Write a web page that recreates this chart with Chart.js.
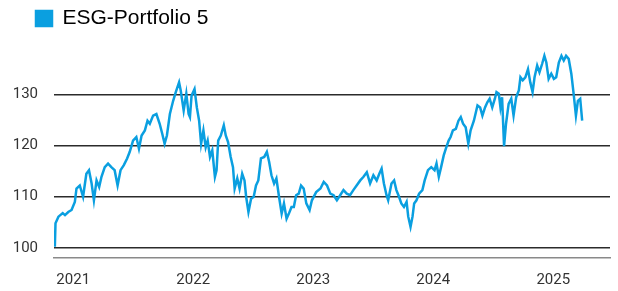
<!DOCTYPE html>
<html>
<head>
<meta charset="utf-8">
<script src="https://cdn.jsdelivr.net/npm/chart.js@4/dist/chart.umd.min.js"></script>
<style>
  body { margin: 0; background: #fff; }
  #wrap { width: 618px; height: 291px; }
</style>
</head>
<body>
<div id="wrap"><canvas id="chart"></canvas></div>
<script>
// ESG-Portfolio 5 - value history (indexed to 100)

const seriesLabel = 'ESG-Portfolio 5';

const dates = [
    '2020-11-06', '2020-11-08', '2020-11-17', '2020-11-30', '2020-12-07', '2020-12-17', '2020-12-27',
    '2021-01-06', '2021-01-11', '2021-01-21', '2021-01-31', '2021-02-10', '2021-02-18', '2021-02-26', '2021-03-05',
    '2021-03-13', '2021-03-21', '2021-03-28', '2021-04-07', '2021-04-17', '2021-04-27', '2021-05-07', '2021-05-16',
    '2021-05-25', '2021-06-04', '2021-06-14', '2021-06-22', '2021-07-02', '2021-07-12', '2021-07-20', '2021-07-28',
    '2021-08-07', '2021-08-15', '2021-08-22', '2021-09-01', '2021-09-11', '2021-09-21', '2021-09-29', '2021-10-06',
    '2021-10-13', '2021-10-22', '2021-11-01', '2021-11-09', '2021-11-19', '2021-11-24', '2021-12-03', '2021-12-11',
    '2021-12-18', '2021-12-22', '2021-12-27',
    '2022-01-05', '2022-01-12', '2022-01-19', '2022-01-25', '2022-02-01', '2022-02-08', '2022-02-14', '2022-02-21',
    '2022-02-28', '2022-03-08', '2022-03-13', '2022-03-18', '2022-03-26', '2022-04-04', '2022-04-10', '2022-04-17',
    '2022-04-25', '2022-05-02', '2022-05-07', '2022-05-15', '2022-05-22', '2022-05-30', '2022-06-06', '2022-06-11',
    '2022-06-18', '2022-06-26', '2022-07-04', '2022-07-11', '2022-07-18', '2022-07-26', '2022-08-05', '2022-08-13',
    '2022-08-20', '2022-08-27', '2022-09-04', '2022-09-11', '2022-09-19', '2022-09-27', '2022-10-04', '2022-10-12',
    '2022-10-19', '2022-10-27', '2022-11-03', '2022-11-10', '2022-11-18', '2022-11-25', '2022-12-03', '2022-12-11',
    '2022-12-21', '2022-12-28',
    '2023-01-10', '2023-01-23', '2023-02-02', '2023-02-12', '2023-02-22', '2023-03-04', '2023-03-14', '2023-03-24',
    '2023-04-03', '2023-04-13', '2023-04-23', '2023-05-03', '2023-05-13', '2023-05-24', '2023-06-03', '2023-06-13',
    '2023-06-23', '2023-07-03', '2023-07-13', '2023-07-21', '2023-07-28', '2023-08-04', '2023-08-12', '2023-08-17',
    '2023-08-27', '2023-09-04', '2023-09-11', '2023-09-19', '2023-09-26', '2023-10-04', '2023-10-12', '2023-10-17',
    '2023-10-24', '2023-10-30', '2023-11-04', '2023-11-11', '2023-11-19', '2023-11-29', '2023-12-06', '2023-12-16',
    '2023-12-26',
    '2024-01-05', '2024-01-11', '2024-01-18', '2024-01-25', '2024-02-02', '2024-02-10', '2024-02-17', '2024-02-23',
    '2024-03-01', '2024-03-10', '2024-03-18', '2024-03-25', '2024-04-01', '2024-04-09', '2024-04-17', '2024-04-24',
    '2024-05-04', '2024-05-15', '2024-05-23', '2024-05-30', '2024-06-07', '2024-06-14', '2024-06-21', '2024-06-29',
    '2024-07-07', '2024-07-12', '2024-07-19', '2024-07-24', '2024-07-29', '2024-08-04', '2024-08-10', '2024-08-18',
    '2024-08-26', '2024-09-02', '2024-09-10', '2024-09-18', '2024-09-23', '2024-09-30', '2024-10-08', '2024-10-16',
    '2024-10-23', '2024-10-30', '2024-11-05', '2024-11-13', '2024-11-20', '2024-11-28', '2024-12-05', '2024-12-11',
    '2024-12-18', '2024-12-26',
    '2025-01-03', '2025-01-10', '2025-01-18', '2025-01-26', '2025-02-02', '2025-02-09', '2025-02-17', '2025-02-25',
    '2025-03-04', '2025-03-11', '2025-03-17', '2025-03-24', '2025-03-30'
];

const values = [
    100.2, 104.8, 106.1, 106.8, 106.4, 107.0, 107.4,
    109.0, 111.6, 112.2, 110.0, 114.5, 115.2, 112.6, 109.3,
    113.2, 111.9, 113.9, 115.8, 116.5, 115.8, 115.2, 112.2,
    115.2, 116.2, 117.5, 118.8, 121.0, 121.7, 119.4, 122.0,
    123.0, 124.9, 124.3, 125.9, 126.2, 124.3, 122.3, 120.4,
    122.0, 126.2, 128.8, 130.5, 132.4, 130.8, 126.9, 130.2,
    126.2, 125.6, 129.8,
    131.1, 127.5, 124.9, 120.4, 123.0, 119.7, 121.0, 117.8,
    119.1, 113.9, 115.2, 121.0, 122.0, 124.0, 122.0, 120.7,
    117.8, 115.8, 111.6, 113.6, 111.6, 114.5, 113.2, 110.0,
    107.0, 109.6, 110.0, 112.2, 113.2, 117.5, 117.8, 118.8,
    116.8, 114.2, 112.6, 113.6, 110.0, 106.7, 108.7, 105.7,
    106.7, 108.0, 108.0, 110.3, 110.6, 112.2, 111.6, 108.7,
    107.4, 109.3,
    110.9, 111.6, 112.9, 112.2, 110.6, 110.3, 109.3, 110.3,
    111.3, 110.6, 110.3, 111.3, 112.2, 113.2, 113.9, 114.8,
    112.6, 114.2, 113.2, 114.5, 115.5, 112.6, 110.3, 109.3,
    112.6, 113.2, 111.3, 110.0, 108.7, 108.0, 109.0, 106.1,
    104.1, 106.1, 108.7, 109.3, 110.6, 111.3, 113.2, 115.2,
    115.8,
    115.2, 116.5, 113.9, 115.8, 118.1, 119.7, 121.0, 121.7,
    123.0, 123.3, 124.9, 125.6, 124.3, 123.6, 120.4, 123.0,
    124.9, 127.9, 127.5, 125.9, 127.5, 128.5, 129.2, 127.5,
    129.2, 130.5, 130.2, 127.5, 129.5, 119.9, 124.3, 128.2,
    129.2, 125.9, 129.5, 130.8, 133.4, 132.8, 133.4, 135.0,
    132.4, 130.5, 133.4, 135.7, 134.4, 136.0, 137.6, 136.3,
    133.1, 134.1,
    133.1, 133.4, 136.3, 137.6, 136.7, 137.6, 137.0, 134.1,
    130.2, 125.9, 128.8, 129.2, 124.9
];

const yearTicks = [2021, 2022, 2023, 2024, 2025];
const valueTicks = [100, 110, 120, 130];

const lineColor = '#0a9fe0';

// date string -> fractional year, so the x axis can be linear
function toYear(str) {
    const [y, m, d] = str.split('-').map(Number);
    const start = Date.UTC(y, 0, 1);
    const end = Date.UTC(y + 1, 0, 1);
    return y + (Date.UTC(y, m - 1, d) - start) / (end - start);
}

const points = dates.map((d, i) => ({ x: toYear(d), y: values[i] }));

// push the legend item to the right a bit (chart.js has no left offset option)
const legendOffset = {
    id: 'legendOffset',
    afterLayout(chart) {
        chart.legend.left = 28;
    }
};

Chart.defaults.font.family = 'Roboto';

new Chart(document.getElementById('chart'), {
    type: 'line',
    data: {
        datasets: [{
            label: seriesLabel,
            data: points,
            borderColor: lineColor,
            backgroundColor: lineColor,
            borderWidth: 2.5,
            pointRadius: 0,
            tension: 0
        }]
    },
    options: {
        responsive: true,
        maintainAspectRatio: false,
        animation: false,
        layout: {
            padding: { left: 0, right: 8, top: 0, bottom: 0 }
        },
        plugins: {
            legend: {
                display: true,
                position: 'top',
                align: 'start',
                labels: {
                    color: '#000',
                    font: { family: 'Liberation Sans', size: 21 },
                    boxWidth: 16,
                    boxHeight: 15,
                    padding: 8
                }
            },
            tooltip: { enabled: false }
        },
        scales: {
            x: {
                type: 'linear',
                min: 2020.84,
                max: 2025.473,
                afterBuildTicks: function(scale) {
                    scale.ticks = yearTicks.map(v => ({ value: v }));
                },
                afterFit: function(scale) {
                    scale.height = 33;
                },
                ticks: {
                    color: '#333',
                    font: { size: 15 },
                    padding: 13,
                    maxRotation: 0,
                    callback: function(value) {
                        return String(value);
                    }
                },
                grid: { display: false, drawTicks: false },
                border: { display: true, color: '#8a8a8a', width: 1.5 }
            },
            y: {
                min: 98,
                max: 140.9,
                afterBuildTicks: function(scale) {
                    scale.ticks = valueTicks.map(v => ({ value: v }));
                },
                afterFit: function(scale) {
                    scale.width = 54;
                },
                ticks: {
                    color: '#333',
                    font: { size: 15 },
                    padding: 16,
                    callback: function(value) {
                        return String(value);
                    }
                },
                grid: { color: '#2b2b2b', lineWidth: 1.5, drawTicks: false },
                border: { display: false }
            }
        }
    },
    plugins: [legendOffset]
});
</script>
</body>
</html>
